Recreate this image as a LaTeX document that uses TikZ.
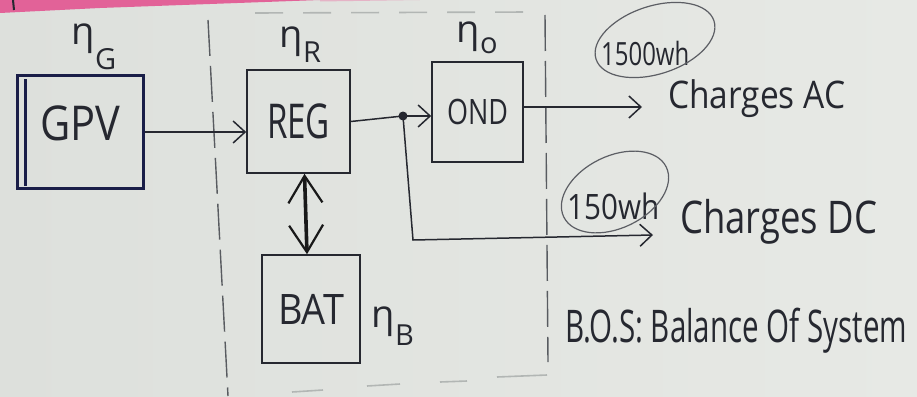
\documentclass[tikz,border=0pt]{standalone}
\usepackage{fontspec}
\setmainfont{Open Sans}
\usepackage{graphicx}
\usetikzlibrary{arrows.meta}

\definecolor{board}{RGB}{231,233,229}
\definecolor{boardl}{RGB}{221,224,220}
\definecolor{ink}{RGB}{38,40,48}
\definecolor{navy}{RGB}{26,30,72}
\definecolor{frame}{RGB}{88,91,96}
\definecolor{faint}{RGB}{178,182,180}
\definecolor{marker}{RGB}{226,98,152}

% squeeze a text to a given width, keeping its height
\newcommand{\fitw}[2]{\resizebox{#1}{\height}{#2}}
% efficiency symbol: eta with a lowered index
\newcommand{\eff}[2]{{\fontsize{38}{38}\selectfont η}\kern0.5pt\raisebox{-#2}{\fontsize{29}{29}\selectfont #1}}

\begin{document}
\begin{tikzpicture}[x=1pt,y=-1pt,
  blk/.style={draw=ink, line width=1.6pt, rectangle, inner sep=0pt, text=ink},
  wire/.style={draw=ink, line width=1.5pt},
  arr/.style={wire, -{Straight Barb[length=12pt,width=22pt,line width=1.5pt]}},
  dbl/.style={draw=black!90, line width=3.6pt,
    {Straight Barb[length=27pt,width=34pt,line width=2.2pt]}-{Straight Barb[length=27pt,width=34pt,line width=2.2pt]}},
  bos/.style={draw=frame, line width=1.4pt, dash pattern=on 36pt off 10pt},
  bosfaint/.style={draw=faint, line width=1.6pt},
  ring/.style={draw=ink!75, line width=1.2pt},
  lbl/.style={text=ink, inner sep=0pt},
]
\useasboundingbox (0,0) rectangle (917,396);

% whiteboard
\shade[left color=boardl, right color=board] (0,0) rectangle (917,396);
% marker smudge along the top edge
\fill[marker] (0,0) -- (320,0) -- (210,4) -- (100,8) -- (0,13) -- cycle;
\fill[marker!40!board] (320,0) -- (420,0) -- (320,1.5) -- cycle;
\draw[ink, line width=2pt] (13,0) -- (14,10);

% B.O.S. boundary, drawn by hand in broken strokes
\draw[bos] (208,20) -- (228,396);
\draw[bos] (545,15) -- (548,362);
\draw[bosfaint, dash pattern=on 28pt off 20pt] (255,13) -- (530,12);
\draw[bosfaint] (292,392) -- (323,390);
\draw[bosfaint] (367,386) -- (400,384);
\draw[bosfaint] (440,382) -- (467,381);
\draw[bosfaint] (497,377) -- (547,375);

% blocks
\node[blk, draw=navy, line width=3pt, minimum width=126pt, minimum height=113pt,
      font=\fontsize{48}{48}\selectfont, text depth=18pt] (gpv) at (80,132) {\fitw{80pt}{GPV}};
\draw[navy, line width=2.2pt] ([xshift=10pt,yshift=-5pt]gpv.north west) -- ([xshift=10pt,yshift=4pt]gpv.south west);
\node[blk, minimum width=103pt, minimum height=103pt,
      font=\fontsize{48}{48}\selectfont] (reg) at (298.5,121.5) {\fitw{63pt}{REG}};
\node[blk, minimum width=91pt, minimum height=100pt,
      font=\fontsize{35}{35}\selectfont] (ond) at (477.5,112) {\fitw{61pt}{OND}};
\node[blk, minimum width=98pt, minimum height=108pt,
      font=\fontsize{42}{42}\selectfont] (bat) at (311,309) {\fitw{66pt}{BAT}};

% efficiencies
\node[lbl, anchor=base west] (etag) at (71,45) {\eff{G}{25pt}};
\node[lbl, anchor=base west] (etar) at (279,48) {\eff{R}{15pt}};
\node[lbl, anchor=base west] (etao) at (456,43) {\eff{o}{10pt}};
\node[lbl, anchor=base west] (etab) at (371,327) {\eff{B}{18pt}};

% loads
\node[lbl, anchor=base west, font=\fontsize{38}{38}\selectfont] (acload) at (668,108) {\fitw{177pt}{Charges AC}};
\node[lbl, anchor=base west, font=\fontsize{45}{45}\selectfont] (dcload) at (680,233) {\fitw{197pt}{Charges DC}};
\node[lbl, anchor=base west, font=\fontsize{32}{32}\selectfont] (acwh) at (601,65) {\fitw{88pt}{1500wh}};
\node[lbl, anchor=base west, font=\fontsize{35}{35}\selectfont] (dcwh) at (567,219) {\fitw{92pt}{150wh}};
\node[lbl, anchor=base west, font=\fontsize{45}{45}\selectfont] (bostext) at (565,342) {\fitw{342pt}{B.O.S: Balance Of System}};

% rings round the energies
\draw[ring, rotate around={18:(655,40)}] (655,40) ellipse [x radius=62pt, y radius=34pt];
\draw[ring, rotate around={26:(615,192)}] (615,192) ellipse [x radius=57pt, y radius=36pt];

% connectors
\coordinate (split) at (403,116);
\coordinate (corner) at (413,240);
\coordinate (acend) at (642,107);
\coordinate (dcend) at (653,235);

\draw[arr] (gpv.east) -- (reg.west |- gpv.east);
\draw[wire] (reg.east) -- (split);
\fill[ink] (split) circle (4.5pt);
\draw[arr] (split) -- (ond.west |- split);
\draw[arr] (ond.east |- acend) -- (acend);
\draw[arr] (split) -- (corner) -- (dcend);
\draw[dbl] ([xshift=6pt]reg.south) -- ([xshift=-4pt]bat.north);
\end{tikzpicture}
\end{document}
